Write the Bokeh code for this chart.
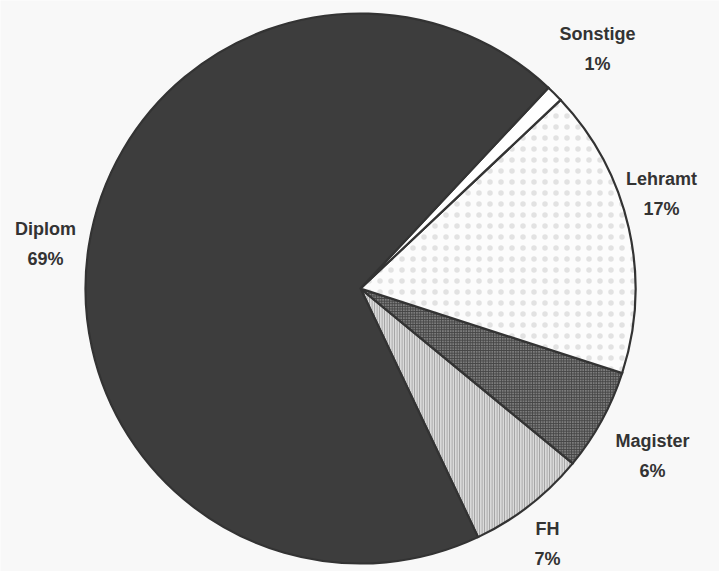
import numpy as np
from bokeh.plotting import figure
from bokeh.models import ColumnDataSource, Range1d
from bokeh.core.properties import value
from bokeh.embed import file_html
from bokeh.resources import INLINE

# Studienabschlüsse, Anteile in Prozent (Reihenfolge gegen den Uhrzeigersinn)
categories = ["FH", "Magister", "Lehramt", "Sonstige", "Diplom"]
shares = [7, 6, 17, 1, 69]

# --- layout -----------------------------------------------------------------
W, H = 719, 571
CX, CY = 360, H - 288          # pie centre in data units (1 unit = 1 px)
RADIUS = 275
START_DEG = -64.7              # where the first slice (FH) begins

cum = np.cumsum([0] + shares)
start_deg = START_DEG + 3.6 * cum[:-1]
end_deg = START_DEG + 3.6 * cum[1:]

styles = {
    "FH":       dict(fill="#dadada", hatch="vertical_line", hcolor="#9a9a9a", hscale=2.5, hweight=1.0),
    "Magister": dict(fill="#7c7c7c", hatch="cross",         hcolor="#444444", hscale=2.6, hweight=1.0),
    "Lehramt":  dict(fill="#fcfcfc", hatch="dot",           hcolor="#e2e2e2", hscale=11.0, hweight=1.0),
    "Sonstige": dict(fill="#ffffff", hatch=" ",             hcolor="#ffffff", hscale=1.0, hweight=1.0),
    "Diplom":   dict(fill="#3d3d3d", hatch=" ",             hcolor="#3d3d3d", hscale=1.0, hweight=1.0),
}

# label block centres (screen px, origin top-left)
label_xy = {
    "Sonstige": (597, 48),
    "Lehramt":  (661, 193),
    "Magister": (652, 455),
    "FH":       (547, 543),
    "Diplom":   (45, 243),
}
LINE_GAP = 15

p = figure(width=W, height=H, output_backend="svg", toolbar_location=None,
           x_range=Range1d(0, W), y_range=Range1d(0, H),
           min_border=0, outline_line_color=None)
p.axis.visible = False
p.grid.visible = False
p.background_fill_color = "#f8f8f8"
p.border_fill_color = "#f8f8f8"

for cat, s0, s1 in zip(categories, start_deg, end_deg):
    st = styles[cat]
    src = ColumnDataSource(dict(x=[CX], y=[CY], a0=[s0], a1=[s1]))
    p.wedge(x="x", y="y", radius=RADIUS, start_angle="a0", end_angle="a1",
            start_angle_units="deg", end_angle_units="deg", direction="anticlock",
            source=src, fill_color=st["fill"], hatch_pattern=st["hatch"],
            hatch_color=st["hcolor"], hatch_scale=st["hscale"], hatch_weight=st["hweight"],
            line_color="#333333", line_width=2.2, line_join="miter")

names_src = ColumnDataSource(dict(
    x=[label_xy[c][0] for c in categories],
    y=[H - label_xy[c][1] + LINE_GAP for c in categories],
    t=categories,
))
pct_src = ColumnDataSource(dict(
    x=[label_xy[c][0] for c in categories],
    y=[H - label_xy[c][1] - LINE_GAP for c in categories],
    t=[f"{v}%" for v in shares],
))
for src in (names_src, pct_src):
    p.text(x="x", y="y", text="t", source=src,
           text_font=value("Liberation Sans"), text_font_style="bold",
           text_font_size="18px", text_color="#333333",
           text_align="center", text_baseline="middle")

open("out.html", "w").write(file_html(p, INLINE))
